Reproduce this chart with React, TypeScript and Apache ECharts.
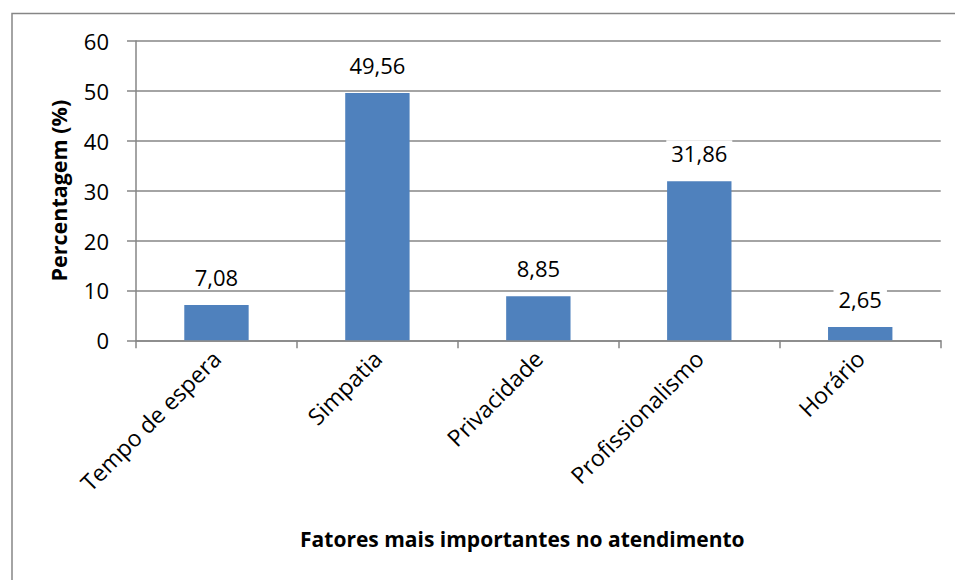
import React, { useEffect, useRef } from "react";
import * as echarts from "echarts";

const categories = ["Tempo de espera", "Simpatia", "Privacidade", "Profissionalismo", "Horário"];
const values = [7.08, 49.56, 8.85, 31.86, 2.65];
const yTicks = { min: 0, max: 60, interval: 10 };
const xTitle = "Fatores mais importantes no atendimento";
const yTitle = "Percentagem (%)";

const FONT = "Open Sans";
const GRAY = "#868686";

export default function App() {
  const ref = useRef<HTMLDivElement>(null);
  useEffect(() => {
    if (!ref.current) return;
    const chart = echarts.init(ref.current, undefined, { renderer: "svg" });
    chart.setOption({
      animation: false,
      backgroundColor: "#ffffff",
      textStyle: { fontFamily: FONT },
      graphic: [
        {
          type: "rect",
          left: 9.5,
          top: 11,
          shape: { x: 0, y: 0, width: 1000, height: 1000 },
          style: { fill: "none", stroke: GRAY, lineWidth: 1.5 },
          silent: true,
        },
      ],
      grid: { left: 136, right: 14.3, top: 41, bottom: 239.7, containLabel: false },
      xAxis: {
        type: "category",
        data: categories,
        name: xTitle,
        nameLocation: "middle",
        nameGap: 188,
        nameTextStyle: {
          fontFamily: FONT,
          fontSize: 21,
          fontWeight: "bold",
          color: "#000",
          padding: [0, 32, 0, 0],
        },
        axisLine: { show: true, lineStyle: { color: GRAY, width: 1.5 } },
        axisTick: { show: true, inside: false, length: 8, lineStyle: { color: GRAY, width: 1.5 } },
        axisLabel: { rotate: 45, fontSize: 23, color: "#000", fontFamily: FONT, margin: 14, interval: 0 },
        splitLine: { show: false },
      },
      yAxis: {
        type: "value",
        min: yTicks.min,
        max: yTicks.max,
        interval: yTicks.interval,
        name: yTitle,
        nameLocation: "middle",
        nameGap: 67,
        nameTextStyle: { fontFamily: FONT, fontSize: 21.5, fontWeight: "bold", color: "#000" },
        axisLine: { show: true, lineStyle: { color: GRAY, width: 1.5 } },
        axisTick: { show: true, inside: false, length: 9, lineStyle: { color: GRAY, width: 1.5 } },
        axisLabel: { fontSize: 22, color: "#000", fontFamily: FONT, margin: 27 },
        splitLine: { show: true, lineStyle: { color: GRAY, width: 1.5 } },
      },
      series: [
        {
          type: "bar",
          data: values,
          barWidth: "40%",
          itemStyle: { color: "#4F81BD" },
          label: {
            show: true,
            position: "top",
            distance: 15,
            fontSize: 22,
            lineHeight: 22,
            color: "#000",
            fontFamily: FONT,
            backgroundColor: "#ffffff",
            padding: [2, 5],
            formatter: (p: any) => Number(p.value).toFixed(2).replace(".", ","),
          },
        },
      ],
    });
    return () => chart.dispose();
  }, []);
  return (
    <div
      ref={ref}
      style={{ position: "fixed", left: 0, top: 0, width: 955, height: 580, background: "#fff" }}
    />
  );
}
